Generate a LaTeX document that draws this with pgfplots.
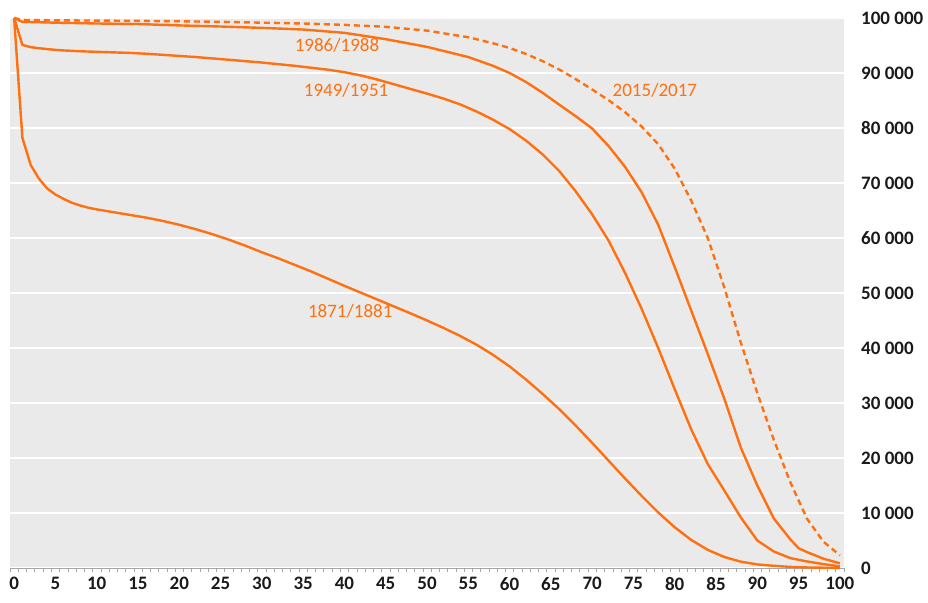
\documentclass[border=0pt]{standalone}
\usepackage{fontspec}
\setmainfont{Carlito}
\usepackage{pgfplots}
\pgfplotsset{compat=1.18}
\definecolor{bg}{RGB}{234,234,234}
\definecolor{org}{RGB}{255,112,16}
\definecolor{tk}{RGB}{26,26,26}
\tikzset{lc/.style={draw=org, line width=2.4pt, line join=round, mark=none}}
\begin{document}
\begin{tikzpicture}
\useasboundingbox (-10pt,-34pt) rectangle (918pt,568pt);
\begin{axis}[
 anchor=south west, at={(0,0)},
 scale only axis, width=834pt, height=550pt,
 xmin=-0.5, xmax=100.5, ymin=0, ymax=100000,
 axis background/.style={fill=bg},
 axis x line*=bottom, axis y line*=right,
 x axis line style={draw=gray!70, line width=0.6pt},
 y axis line style={draw=none},
 xtick={0,5,...,100},
 minor xtick={-0.5,0.5,...,100.5},
 major tick length=0pt, minor tick length=4pt,
 tick align=outside,
 minor tick style={gray!70, line width=0.6pt},
 ytick={0,10000,20000,30000,40000,50000,60000,70000,80000,90000,100000},
 yticklabels={0,{10 000},{20 000},{30 000},{40 000},{50 000},{60 000},{70 000},{80 000},{90 000},{100 000}},
 scaled y ticks=false,
 ymajorgrids, grid style={white, line width=1.6pt},
 ticklabel style={font=\fontsize{19}{22}\selectfont\bfseries, text=tk, inner sep=1pt},
 /pgf/number format/assume math mode=true,
 yticklabel style={anchor=west, xshift=16pt},
 xticklabel style={anchor=north, yshift=-8pt},
 clip=false,
]
% 1871/1881
\addplot[lc] table {
0 100000
1 78200
2 73300
3 70800
4 69000
5 67900
6 67100
7 66400
8 65900
9 65500
10 65200
12 64700
14 64200
16 63700
18 63100
20 62400
22 61600
24 60700
26 59700
28 58600
30 57400
32 56300
34 55100
36 53900
38 52600
40 51300
42 50050
44 48800
46 47550
48 46300
50 45000
52 43650
54 42200
56 40600
58 38750
60 36650
62 34250
64 31650
66 28900
68 25900
70 22750
72 19500
74 16250
76 13100
78 10100
80 7400
82 5100
84 3300
86 2000
88 1150
90 650
92 400
94 200
96 100
98 50
100 20
};
% 1949/1951
\addplot[lc] table {
0 100000
1 95100
2 94700
3 94500
4 94350
5 94200
6 94100
8 93950
10 93850
12 93750
14 93650
16 93500
18 93300
20 93100
22 92900
24 92650
26 92400
28 92150
30 91900
32 91600
34 91300
36 90950
38 90600
40 90150
42 89550
44 88800
46 87950
48 87100
50 86250
52 85350
54 84300
56 83000
58 81500
60 79800
62 77700
64 75200
66 72200
68 68500
70 64300
72 59500
74 53600
76 47100
78 40000
80 32500
82 25200
84 18900
86 14100
88 9200
90 5000
92 3000
94 1800
96 1200
98 700
100 300
};
% 1986/1988
\addplot[lc] table {
0 100000
1 99300
5 99150
10 99000
15 98900
20 98650
25 98450
30 98200
35 97900
40 97300
45 96150
50 94750
55 92900
58 91300
60 90000
62 88350
64 86400
66 84250
68 82150
70 79900
72 76700
74 72900
76 68300
78 62400
80 54700
82 46800
84 38900
86 30800
88 21900
90 15000
92 9000
94 5200
95 3600
96 2900
98 1700
100 850
};
% 2015/2017
\addplot[lc, dash pattern=on 6pt off 4pt] table {
0 100000
1 99650
5 99580
10 99530
15 99480
20 99400
25 99300
30 99150
35 99000
40 98750
45 98400
50 97700
55 96500
58 95400
60 94550
62 93450
64 92150
66 90650
68 88900
70 87000
72 85050
74 82850
76 80250
78 77050
80 72600
82 66800
84 60000
86 51000
88 41000
90 31800
92 23300
94 15600
96 9000
98 4800
100 2300
};
\node[text=org, font=\fontsize{19}{22}\selectfont] at (axis cs:39.1,95090) {1986/1988};
\node[text=org, font=\fontsize{19}{22}\selectfont] at (axis cs:40.2,86910) {1949/1951};
\node[text=org, font=\fontsize{19}{22}\selectfont] at (axis cs:77.6,86780) {2015/2017};
\node[text=org, font=\fontsize{19}{22}\selectfont] at (axis cs:40.7,46600) {1871/1881};
\end{axis}
\end{tikzpicture}
\end{document}
